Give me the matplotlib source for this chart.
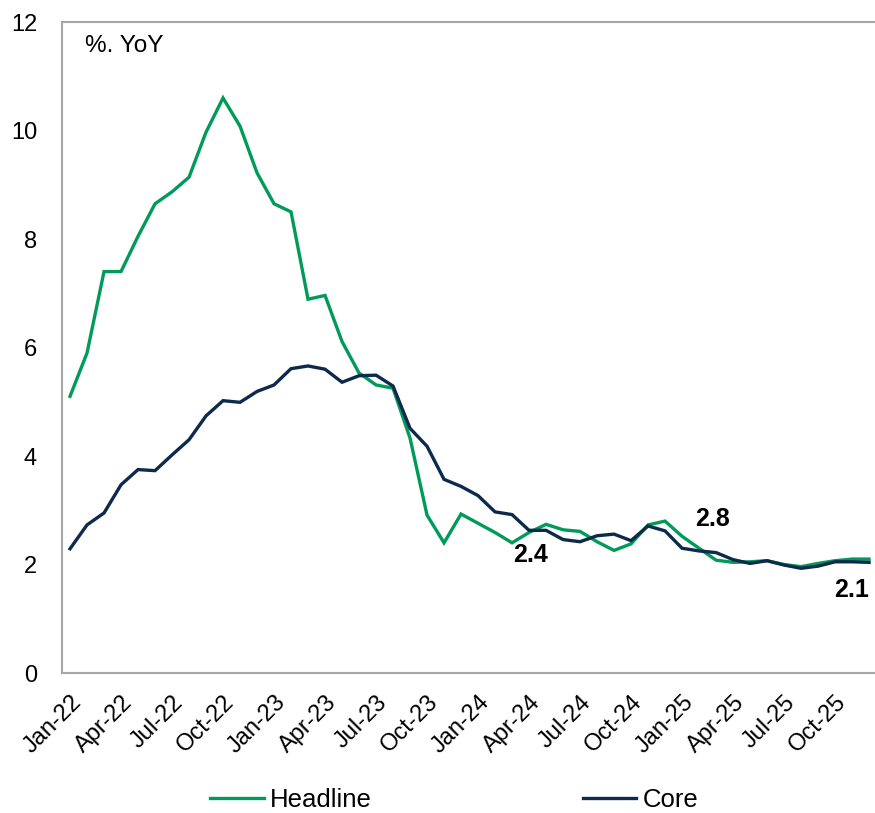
import matplotlib.pyplot as plt

plt.rcParams['font.family'] = ['Liberation Sans', 'DejaVu Sans']

# monthly inflation, Jan-22 .. Dec-25 (% YoY)
months = ['Jan', 'Feb', 'Mar', 'Apr', 'May', 'Jun', 'Jul', 'Aug', 'Sep', 'Oct', 'Nov', 'Dec']
years = ['22', '23', '24', '25']
dates = [f"{m}-{y}" for y in years for m in months]

headline = [5.1, 5.9, 7.4, 7.4, 8.05, 8.65, 8.87, 9.14, 9.97, 10.6, 10.08, 9.22,
            8.65, 8.5, 6.89, 6.96, 6.11, 5.53, 5.31, 5.25, 4.33, 2.91, 2.4, 2.93,
            2.76, 2.59, 2.4, 2.59, 2.74, 2.64, 2.61, 2.42, 2.26, 2.38, 2.73, 2.8,
            2.52, 2.3, 2.08, 2.04, 2.05, 2.07, 2.0, 1.96, 2.02, 2.07, 2.1, 2.1]
core = [2.29, 2.73, 2.95, 3.47, 3.75, 3.73, 4.02, 4.3, 4.74, 5.02, 4.99, 5.19,
        5.31, 5.61, 5.66, 5.6, 5.36, 5.48, 5.49, 5.29, 4.51, 4.18, 3.57, 3.44,
        3.27, 2.97, 2.92, 2.63, 2.63, 2.46, 2.42, 2.53, 2.56, 2.44, 2.71, 2.62,
        2.3, 2.25, 2.22, 2.09, 2.02, 2.07, 1.99, 1.93, 1.97, 2.05, 2.05, 2.04]

# headline points that get a value label, with label offset in pixels
callouts = [(26, 18, -12), (35, 47, 2), (47, -17, -31)]

green = '#009B5A'
navy = '#0B2A4C'
grey = '#A6A6A6'

fig = plt.figure(figsize=(8.75, 8.13), dpi=100)
ax = fig.add_axes([0.0709, 0.1722, 0.932, 0.8007])

x = list(range(len(dates)))
ax.plot(x, headline, color=green, lw=2.4, label='Headline', solid_joinstyle='miter')
ax.plot(x, core, color=navy, lw=2.4, label='Core', solid_joinstyle='miter')

for i, dx, dy in callouts:
    ax.annotate(f"{headline[i]:.1f}", (i, headline[i]), xytext=(dx, dy),
                textcoords='offset pixels', ha='center', va='center',
                fontsize=18, fontweight='bold', color='black')

ax.set_xlim(-0.47, 47.5)
ax.set_ylim(0, 12)
ax.set_yticks(range(0, 13, 2))
ax.set_xticks(x[::3])
ax.set_xticklabels(dates[::3], rotation=45, ha='right', rotation_mode='anchor')
ax.tick_params(axis='both', length=0, labelsize=17, colors='black')
ax.tick_params(axis='y', pad=18)
ax.tick_params(axis='x', pad=13)

for side in ['left', 'bottom', 'top', 'right']:
    ax.spines[side].set_color(grey)
    ax.spines[side].set_linewidth(1.5)

ax.text(0.028, 0.963, '%. YoY', transform=ax.transAxes, fontsize=17.5,
        ha='left', va='center')

fig.legend(loc='center', bbox_to_anchor=(0.519, 0.016), ncol=2,
           frameon=False, fontsize=18.5, handlelength=2.1, handletextpad=0.25,
           columnspacing=8.2)

fig.savefig('out.png', dpi=100)
